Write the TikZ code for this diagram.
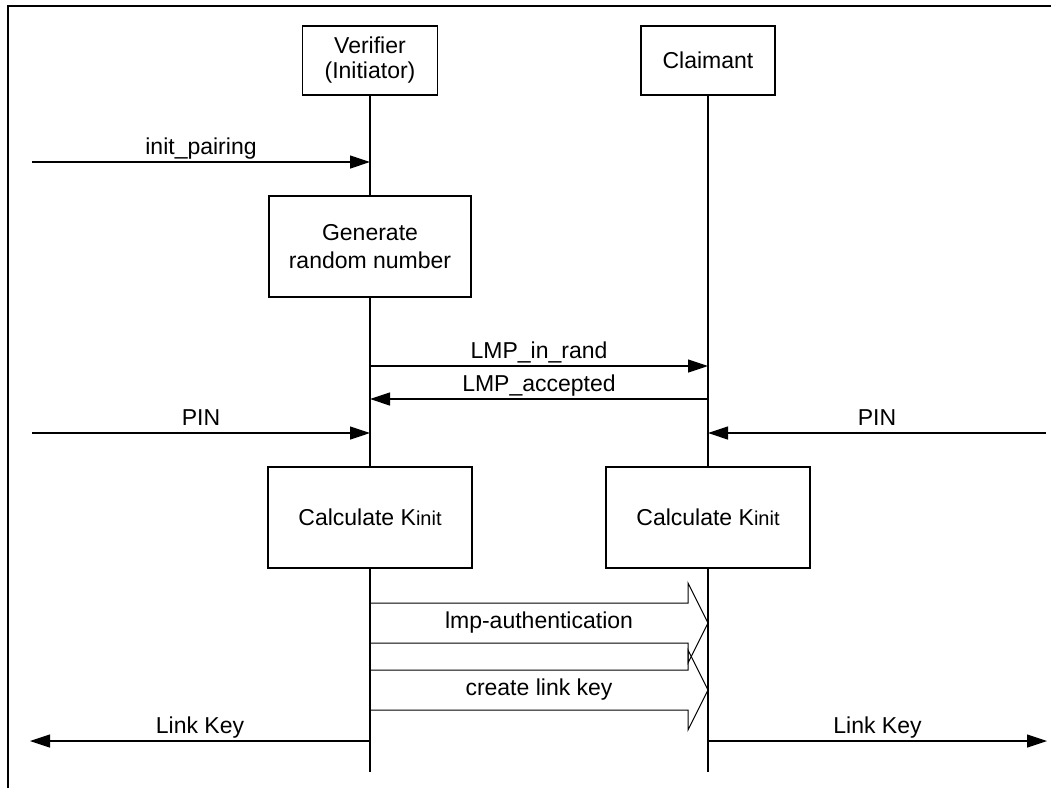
\documentclass[tikz,border=0pt]{standalone}
\usepackage{fontspec}
\setmainfont{Liberation Sans}
\usetikzlibrary{arrows.meta,positioning,calc}
\tikzset{
    entity/.style={
           rectangle,
           draw=black,
           line width=1.5pt,
           fill=white,
           align=center,
           inner sep=2pt,
           text centered,
           },
    msg/.style={
           anchor=base,
           yshift=8pt,
           },
}

\begin{document}
\begin{tikzpicture}[x=1pt,y=-1pt,->,>={Triangle[length=20pt,width=13pt]},line width=1.2pt,
    font=\fontsize{23}{25}\selectfont]
\useasboundingbox (0,0) rectangle (1051,788);
\draw[-,line width=2.5pt] (8,788) -- (8,6) -- (1051,6);
\node[entity,minimum width=135pt,minimum height=69pt] (verifier) at (370,60.5) {Verifier\\(Initiator)};
\node[entity,minimum width=134pt,minimum height=69pt,right of=verifier,node distance=338pt] (claimant) {Claimant};
\node[entity,minimum width=202pt,minimum height=101pt,below of=verifier,node distance=186pt,
      font=\fontsize{23}{28}\selectfont] (genrand) {Generate\\random number};
\node[entity,minimum width=204pt,minimum height=101pt,below of=genrand,node distance=271pt]
      (calcv) {Calculate K{\fontsize{20}{20}\selectfont init}};
\node[entity,minimum width=204pt,minimum height=101pt,right of=calcv,node distance=338pt]
      (calcc) {Calculate K{\fontsize{20}{20}\selectfont init}};
\coordinate (vend) at (370,772);
\coordinate (cend) at (708,772);
% lifelines
\draw[-] (verifier) -- (genrand);
\draw[-] (genrand) -- (calcv);
\draw[-] (calcv) -- (vend);
\draw[-] (claimant) -- (calcc);
\draw[-] (calcc) -- (cend);
% points on the lifelines
\coordinate (vinit) at (370,162);
\coordinate (vrand) at (370,366);
\coordinate (crand) at (708,366);
\coordinate (vacc) at (370,399);
\coordinate (cacc) at (708,399);
\coordinate (vpin) at (370,433);
\coordinate (cpin) at (708,433);
\coordinate (vauth) at (370,623);
\coordinate (cauth) at (708,623);
\coordinate (vkey) at (370,690);
\coordinate (ckey) at (708,690);
\coordinate (vlink) at (370,741);
\coordinate (clink) at (708,741);
% free ends
\coordinate (initin) at (32,162);
\coordinate (pinl) at (32,433);
\coordinate (pinr) at (1046,433);
\coordinate (linkl) at (30,741);
\coordinate (linkr) at (1047,741);
\draw (initin) -- node[msg,midway] (initlbl) {init\_pairing} (vinit);
\draw (vrand) -- node[msg,midway] (randlbl) {LMP\_in\_rand} (crand);
\draw (cacc) -- node[msg,midway] (acclbl) {LMP\_accepted} (vacc);
\draw (pinl) -- node[msg,midway] (pinllbl) {PIN} (vpin);
\draw (pinr) -- node[msg,midway] (pinrlbl) {PIN} (cpin);
\draw (vlink) -- node[msg,midway] (linkllbl) {Link Key} (linkl);
\draw (clink) -- node[msg,midway] (linkrlbl) {Link Key} (linkr);
% hollow arrows
\draw[-,line width=1pt] ([yshift=20pt]vauth) -- ++(318,0) -- ++(0,-20) -- (cauth) -- ++(-20,40) -- ++(0,-20) -- ++(-318,0);
\node (authlbl) at ($(vauth)!0.5!(cauth)$) {lmp-authentication};
\draw[-,line width=1pt] ([yshift=20pt]vkey) -- ++(318,0) -- ++(0,-20) -- (ckey) -- ++(-20,40) -- ++(0,-20) -- ++(-318,0);
\node (keylbl) at ($(vkey)!0.5!(ckey)$) {create link key};
\end{tikzpicture}
\end{document}
